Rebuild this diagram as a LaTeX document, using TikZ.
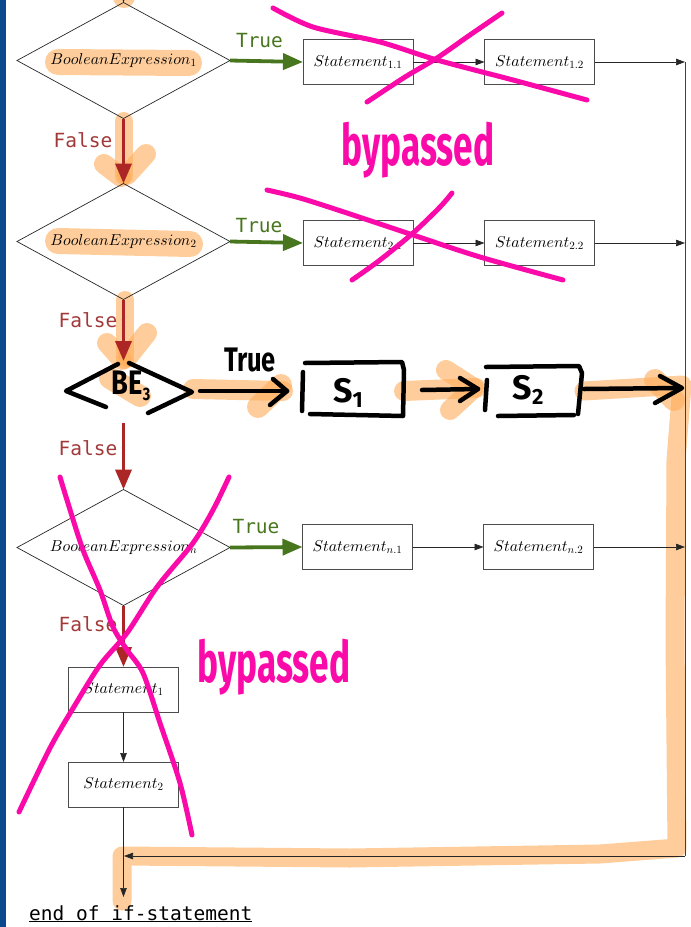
\documentclass[tikz,border=0pt]{standalone}
\usepackage{fontspec}
\newfontfamily\codefont{DejaVu Sans Mono}
\newfontfamily\penfont{Fira Sans}
\usetikzlibrary{shapes.geometric,arrows.meta}
% scalable math italic and digits at any size
\DeclareFontShape{OML}{cmm}{m}{it}{<-> cmmi10}{\skewchar\font'177}
\DeclareFontShape{OT1}{cmr}{m}{n}{<-> cmr10}{}

\definecolor{sidebar}{RGB}{12,72,142}
\definecolor{truegreen}{RGB}{72,118,30}
\definecolor{falsered}{RGB}{172,38,38}
\definecolor{falsetext}{RGB}{162,56,56}
\definecolor{markerorange}{RGB}{255,172,88}
\definecolor{pen}{RGB}{250,10,168}
\newcommand\stmtsize{\fontsize{15.8}{18}\selectfont}
\newcommand\labelsize{\fontsize{19.5}{20}\selectfont}

\begin{document}
\begin{tikzpicture}[x=1pt,y=-1pt,
  decision/.style={diamond, aspect=1.84, draw=black!85, line width=0.7pt, minimum width=213pt,
    minimum height=116pt, inner sep=0pt, outer sep=0pt, font=\stmtsize},
  stmt/.style={draw=black!70, line width=0.8pt, minimum width=110pt,
    minimum height=45pt, inner sep=0pt, outer sep=0pt, font=\stmtsize},
  yesarrow/.style={draw=truegreen, line width=3.8pt, -{Triangle[length=20pt,width=16pt]}},
  noarrow/.style={draw=falsered, line width=3.6pt, -{Triangle[length=20pt,width=16pt]}},
  flow/.style={draw=black!85, line width=0.7pt, -{Triangle[length=9pt,width=6.5pt]}},
  rail/.style={draw=black!75, line width=0.8pt},
  yeslabel/.style={text=truegreen, font=\codefont\labelsize, anchor=base, inner sep=0pt},
  nolabel/.style={text=falsetext, font=\codefont\labelsize, anchor=base, inner sep=0pt},
  hilite/.style={draw=markerorange, draw opacity=0.6, line cap=round, line join=round, line width=18pt},
  ink/.style={draw=black, line width=4.5pt, line cap=round, line join=round},
  inktext/.style={font=\penfont\bfseries\fontsize{34}{34}\selectfont, inner sep=0pt},
  strike/.style={draw=pen, line width=5pt, line cap=round, line join=round},
  penword/.style={text=pen, font=\penfont\bfseries\fontsize{44}{44}\selectfont, inner sep=0pt}]

\useasboundingbox (0,0) rectangle (691,927);
\fill[sidebar] (0,0) rectangle (6,927);

% ---- highlighter marks (underneath everything) ----
\draw[hilite, line width=22pt] (123.5,-10) -- (123.5,-3);
\draw[hilite, line width=26pt] (58,62) -- (189,63);
\draw[hilite] (123.5,121) -- (123.5,176);
\draw[hilite, line width=20pt] (104,164) -- (121,177);
\draw[hilite, line width=20pt] (146,154) -- (127,175);
\draw[hilite, line width=26pt] (58,241) -- (190,244);
\draw[hilite] (125,300) -- (125,360);
\draw[hilite, line width=20pt] (107,343) -- (122,360);
\draw[hilite, line width=20pt] (147,333) -- (128,357);
\draw[hilite, line width=22pt] (110,378) -- (140,396);
\draw[hilite, line width=20pt] (193,389) -- (283,391);
\draw[hilite, line width=22pt] (281,385) -- (258,407);
\draw[hilite, line width=20pt] (404,391) -- (476,388);
\draw[hilite, line width=20pt] (446,370) -- (474,388) -- (450,410);
\draw[hilite, line width=19pt] (584,391) -- (682,385) -- (676,460) -- (675,640)
  -- (677,848) -- (600,854) -- (350,858) -- (122,856) -- (122,901);
\draw[hilite, line width=22pt] (655,380) -- (674,400);

% ---- decisions ----
\node[decision] (d1) at (123.5,60.5) {$BooleanExpression_1$};
\node[decision] (d2) at (123.5,241.5) {$BooleanExpression_2$};
\node[decision] (dn) at (123.5,547.5) {$BooleanExpression_n$};

% ---- statement boxes ----
\node[stmt] (s11) at (358,62) {$Statement_{1.1}$};
\node[stmt] (s12) at (539.5,62) {$Statement_{1.2}$};
\node[stmt] (s21) at (358,243) {$Statement_{2.1}$};
\node[stmt] (s22) at (539.5,243) {$Statement_{2.2}$};
\node[stmt] (sn1) at (357.5,547) {$Statement_{n.1}$};
\node[stmt] (sn2) at (538.5,547) {$Statement_{n.2}$};
\node[stmt] (st1) at (123.5,689.5) {$Statement_1$};
\node[stmt] (st2) at (123.5,784.5) {$Statement_2$};

% ---- helper points ----
\coordinate (entry) at (123.5,-20);
\coordinate (be3top) at (123.5,361);
\coordinate (be3bot) at (123.5,423);
\coordinate (rail1) at (685,62);
\coordinate (rail2) at (685,243);
\coordinate (railn) at (685,547);
\coordinate (railend) at (685,856);
\coordinate (join) at (124,856);
\coordinate (exit) at (123.5,897);

% ---- true branches ----
\draw[yesarrow] (d1.east) -- (s11.west);
\draw[yesarrow] (d2.east) -- (s21.west);
\draw[yesarrow] (dn.east) -- (sn1.west);
\node[yeslabel] (t1) at (259.5,47) {True};
\node[yeslabel] (t2) at (259,232) {True};
\node[yeslabel] (tn) at (256,533) {True};

% ---- false branches ----
\draw[noarrow] (d1.south) -- (d2.north);
\draw[noarrow] (d2.south) -- (be3top);
\draw[noarrow] (be3bot) -- (dn.north);
\draw[noarrow] (dn.south) -- (st1.north);
\node[nolabel] (f1) at (83,147) {False};
\node[nolabel] (f2) at (88,327) {False};
\node[nolabel] (f3) at (88,455) {False};
\node[nolabel] (fn) at (88,631) {False};

% ---- sequential flow ----
\draw[flow] (entry) -- (d1.north);
\draw[flow] (s11.east) -- (s12.west);
\draw[flow] (s21.east) -- (s22.west);
\draw[flow] (sn1.east) -- (sn2.west);
\draw[flow] (st1.south) -- (st2.north);
\draw[flow] (s12.east) -- (rail1);
\draw[flow] (s22.east) -- (rail2);
\draw[flow] (sn2.east) -- (railn);
\draw[rail] (rail1) -- (railend);
\draw[flow] (railend) -- (join);
\draw[flow] (st2.south) -- (exit);
\node[anchor=base west, inner sep=0pt, font=\codefont\labelsize] (endlabel) at (29,920)
  {\underline{end of if-statement}};

% ---- hand-drawn third branch ----
\draw[ink] (118,364) -- (66,391) -- (106,407);
\draw[ink] (129,363) -- (192,392) -- (148,413);
\node[inktext, xscale=0.8] (be3) at (131,386) {BE\raisebox{-6pt}{\fontsize{18}{18}\selectfont 3}};
\draw[ink] (200,391) -- (287,391);
\draw[ink] (273,379) -- (287,391) -- (270,405);
\node[inktext, xscale=0.75] (truehand) at (250,360) {True};
\draw[ink] (305,363) -- (402,362) -- (404,370) -- (403,416) -- (310,414);
\draw[ink] (303,372) -- (302,411);
\node[inktext] (hs1) at (348,393) {S\raisebox{-5pt}{\fontsize{22}{22}\selectfont 1}};
\draw[ink] (486,367) -- (579,366) -- (582,373) -- (578,414);
\draw[ink] (487,380) -- (485,410);
\draw[ink] (498,416) -- (574,415);
\node[inktext] (hs2) at (528,390) {S\raisebox{-5pt}{\fontsize{22}{22}\selectfont 2}};
\draw[ink] (422,390) -- (478,389);
\draw[ink] (460,378) -- (478,389) -- (460,401);
\draw[ink] (584,389) -- (681,388);
\draw[ink] (660,376) -- (682,388) -- (655,403);

% ---- crossed-out parts ----
\draw[strike] plot[smooth] coordinates {(273,8) (313,27) (380,42) (437,60) (513,80) (587,100)};
\draw[strike] plot[smooth] coordinates {(367,102) (405,77) (437,58) (467,37) (502,13)};
\node[penword, xscale=0.8, yscale=1.3] (bp1) at (418,150) {bypassed};
\draw[strike] plot[smooth] coordinates {(267,190) (300,198) (347,213) (413,235) (480,257) (563,280)};
\draw[strike] plot[smooth] coordinates {(352,280) (380,260) (413,233) (440,207) (452,193)};
\draw[strike] plot[smooth] coordinates {(60,477) (67,500) (83,550) (100,590) (113,627)
  (127,650) (143,673) (160,723) (180,783) (192,835)};
\draw[strike] plot[smooth] coordinates {(229,477) (213,510) (193,543) (157,587) (127,633)
  (100,665) (75,705) (50,748) (19,812)};
\node[penword, xscale=0.8, yscale=1.3] (bp2) at (274,667) {bypassed};
\end{tikzpicture}
\end{document}
